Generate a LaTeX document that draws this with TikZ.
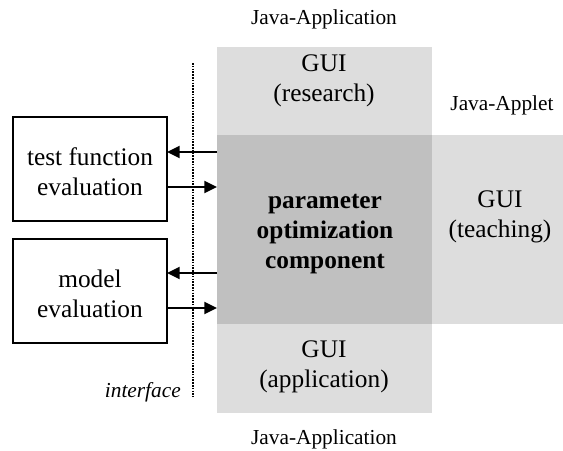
\documentclass[tikz,border=0pt]{standalone}
\usepackage{fontspec}
\setmainfont{Liberation Serif}
\usetikzlibrary{arrows.meta}
\definecolor{lightgui}{HTML}{DDDDDD}
\definecolor{coregray}{HTML}{C0C0C0}
\begin{document}
\begin{tikzpicture}[x=0.75pt,y=-0.75pt,
  region/.style={rectangle,inner sep=0pt,outer sep=0pt,anchor=north west,fill=lightgui},
  corebox/.style={rectangle,inner sep=0pt,outer sep=0pt,anchor=north west,fill=coregray},
  extbox/.style={rectangle,inner sep=0pt,outer sep=0pt,anchor=north west,draw=black,line width=1.1pt},
  boxtext/.style={align=center,font=\fontsize{19}{22.5}\selectfont,inner sep=0pt},
  javalabel/.style={font=\fontsize{16}{19}\selectfont,inner sep=0pt},
  arr/.style={line width=1.5pt,-{Triangle[length=9.5pt,width=9pt]}},
  dotline/.style={line width=1.6pt,dash pattern=on 1.2pt off 0.9pt}]
\useasboundingbox (0,0) rectangle (563,450);
% regions
\node[region,minimum width=161.25pt,minimum height=66pt] (res) at (217,47) {};
\node[corebox,minimum width=161.25pt,minimum height=141.75pt] (core) at (217,135) {};
\node[region,minimum width=98.25pt,minimum height=141.75pt] (teach) at (432,135) {};
\node[region,minimum width=161.25pt,minimum height=66.75pt] (app) at (217,324) {};
% external boxes
\node[extbox,minimum width=115.5pt,minimum height=78pt] (tf) at (13,117) {};
\node[extbox,minimum width=115.5pt,minimum height=78pt] (me) at (13,239) {};
% texts
\node[boxtext] (tres) at (324,81) {GUI\\(research)};
\node[boxtext,font=\fontsize{19}{22.5}\selectfont\bfseries] (tcore) at (325,234) {parameter\\optimization\\component};
\node[boxtext] (tteach) at (500,217) {GUI\\(teaching)};
\node[boxtext] (tapp) at (324,367) {GUI\\(application)};
\node[boxtext] (ttf) at (90,172) {test function\\evaluation};
\node[boxtext] (tme) at (90,294) {model\\evaluation};
\node[javalabel] (ja1) at (324,19) {Java-Application};
\node[javalabel] (ja2) at (324,439) {Java-Application};
\node[javalabel] (jap) at (502,105) {Java-Applet};
\node[javalabel,font=\fontsize{16}{19}\selectfont\itshape,anchor=east] (intf) at (181,392) {interface};
% interface line
\coordinate (dtop) at (193,63);
\coordinate (dbot) at (193,397);
\draw[dotline] (dtop) -- (dbot);
% arrows
\draw[arr] (core.west |- 0,152) -- (tf.east |- 0,152);
\draw[arr] (tf.east |- 0,187) -- (core.west |- 0,187);
\draw[arr] (core.west |- 0,273) -- (me.east |- 0,273);
\draw[arr] (me.east |- 0,308) -- (core.west |- 0,308);
\end{tikzpicture}
\end{document}
